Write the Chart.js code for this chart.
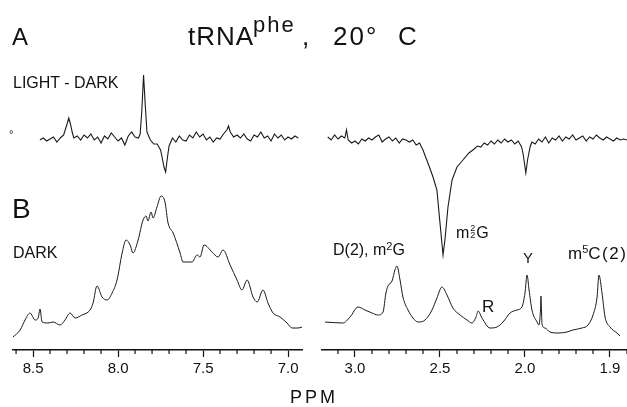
<!DOCTYPE html>
<html><head><meta charset="utf-8">
<script src="https://cdn.jsdelivr.net/npm/chart.js@4"></script>
<style>
html,body{margin:0;padding:0;background:#fff;}
#wrap{position:relative;width:627px;height:407px;overflow:hidden;background:#fff;font-family:"Liberation Sans",Arial,sans-serif;color:#111;}
canvas{position:absolute;top:0;}
.t{position:absolute;line-height:1;white-space:nowrap;}
</style></head><body>
<div id="wrap">
<canvas id="cl" width="312" height="407" style="left:0px"></canvas>
<canvas id="cr" width="315" height="407" style="left:312px"></canvas>
<div class="t" style="left:12px;top:25px;font-size:24px">A</div>
<div class="t" style="left:188px;top:23px;font-size:26px;letter-spacing:1px">tRNA</div>
<div class="t" style="left:253px;top:14px;font-size:22px;letter-spacing:2px">phe</div>
<div class="t" style="left:302px;top:23px;font-size:26px">,</div>
<div class="t" style="left:333px;top:23px;font-size:26px;letter-spacing:2px">20°</div>
<div class="t" style="left:398px;top:23px;font-size:26px">C</div>
<div class="t" style="left:13px;top:75px;font-size:16px">LIGHT - DARK</div>
<div class="t" style="left:9px;top:129px;font-size:11px">°</div>
<div class="t" style="left:12px;top:195px;font-size:28px">B</div>
<div class="t" style="left:13px;top:245px;font-size:16px">DARK</div>
<div class="t" style="left:333px;top:241px;font-size:16px">D(2), m<span style="font-size:11px;vertical-align:5px">2</span>G</div>
<div class="t" style="left:456px;top:225px;font-size:16px">m<span style="display:inline-block;font-size:9px;line-height:7px;text-align:center;margin:0 1px">2<br>2</span>G</div>
<div class="t" style="left:523px;top:250px;font-size:15px">Y</div>
<div class="t" style="left:568px;top:244px;font-size:17px">m<span style="font-size:11px;vertical-align:6px">5</span><span style="letter-spacing:1.5px">C(2)</span></div>
<div class="t" style="left:482px;top:298px;font-size:17px">R</div>
<div class="t" style="left:290px;top:388px;font-size:18px;letter-spacing:3px">PPM</div>
</div>
<script>
// ---- Left panel (aromatic region) ----
const leftLightDarkPpm = [8.46,8.44,8.42,8.40,8.38,8.36,8.34,8.32,8.30,8.29,8.28,8.27,8.26,8.24,8.22,8.20,8.18,8.16,8.14,8.12,8.10,8.08,8.06,8.04,8.02,8.00,7.98,7.96,7.94,7.92,7.90,7.88,7.87,7.86,7.85,7.84,7.83,7.81,7.79,7.77,7.75,7.74,7.73,7.72,7.71,7.70,7.68,7.66,7.64,7.62,7.60,7.58,7.56,7.54,7.52,7.50,7.48,7.46,7.44,7.42,7.40,7.38,7.36,7.35,7.34,7.32,7.30,7.28,7.26,7.24,7.22,7.20,7.18,7.16,7.14,7.12,7.10,7.08,7.06,7.04,7.02,7.00,6.98,6.96,6.94];
const leftLightDark = [210,212,209,211,213,208,212,215,226,232,226,218,212,214,210,215,212,216,210,213,207,214,211,217,213,209,212,205,214,218,213,212,216,240,275,245,218,210,206,206,200,192,183,178,192,204,212,208,214,210,209,215,212,218,213,216,210,213,208,212,211,216,220,224,218,213,215,212,216,211,209,215,213,218,212,214,209,216,212,215,210,213,211,214,212];
const leftDarkPpm = [8.618,8.576,8.547,8.518,8.488,8.47,8.459,8.447,8.412,8.382,8.341,8.312,8.282,8.253,8.212,8.165,8.147,8.124,8.094,8.065,8.035,8.006,7.976,7.953,7.929,7.912,7.882,7.853,7.835,7.824,7.806,7.794,7.771,7.747,7.724,7.706,7.676,7.635,7.618,7.565,7.535,7.518,7.494,7.447,7.412,7.382,7.341,7.300,7.271,7.241,7.206,7.182,7.147,7.118,7.088,7.047,7.006,6.976,6.941,6.918];
const leftDark = [13,20,30,37,30,32,41,28,27,28,25,30,37,32,35,40,47,64,53,50,57,70,97,110,105,97,110,130,134,129,138,132,143,154,148,127,117,97,88,88,95,93,105,98,93,100,85,70,60,70,53,48,60,47,37,33,27,22,22,23];
const leftTickValues = [8.6,8.5,8.4,8.3,8.2,8.1,8.0,7.9,7.8,7.7,7.6,7.5,7.4,7.3,7.2,7.1,7.0];
const leftMajorTicks = [8.5,8.0,7.5,7.0];
const leftTickLabels = ['8.5','8.0','7.5','7.0'];

// ---- Right panel (methyl region) ----
const rightLightDarkPpm = [3.16,3.14,3.12,3.10,3.08,3.06,3.05,3.04,3.02,3.00,2.98,2.96,2.94,2.92,2.90,2.88,2.86,2.84,2.82,2.80,2.78,2.76,2.74,2.72,2.70,2.68,2.66,2.64,2.62,2.60,2.571,2.541,2.518,2.50,2.482,2.471,2.453,2.429,2.40,2.365,2.33,2.306,2.28,2.26,2.24,2.22,2.20,2.18,2.16,2.14,2.12,2.10,2.08,2.06,2.04,2.02,2.01,1.995,1.985,1.97,1.96,1.94,1.92,1.90,1.88,1.86,1.84,1.82,1.80,1.78,1.76,1.74,1.72,1.70,1.68,1.66,1.64,1.62,1.60,1.58,1.56,1.54,1.52,1.50,1.48,1.46,1.44,1.42,1.40];
const rightLightDark = [213,210,215,211,214,212,220,210,207,209,206,211,209,212,210,213,215,208,211,213,209,212,207,211,210,208,210,205,207,200,187,173,160,127,95,110,143,170,183,190,197,200,204,203,207,205,209,206,210,207,211,208,210,206,209,203,195,177,190,203,208,206,211,208,213,207,212,210,214,209,213,211,215,210,212,214,209,213,211,215,212,210,213,211,209,212,210,211,210];
const rightDarkPpm = [3.176,3.071,3.029,2.982,2.941,2.900,2.865,2.835,2.818,2.806,2.782,2.765,2.753,2.735,2.718,2.688,2.659,2.629,2.588,2.547,2.518,2.488,2.459,2.424,2.382,2.341,2.312,2.288,2.276,2.253,2.206,2.165,2.129,2.088,2.047,2.018,2.000,1.988,1.976,1.959,1.929,1.918,1.909,1.906,1.903,1.900,1.882,1.853,1.806,1.753,1.718,1.665,1.629,1.600,1.576,1.565,1.547,1.529,1.500,1.459,1.441];
const rightDark = [28,27,33,43,40,37,35,38,57,64,69,80,84,70,53,40,32,28,30,40,52,63,55,42,35,30,27,33,39,32,22,23,28,37,40,43,57,75,60,40,28,25,40,54,40,26,22,18,17,18,20,22,25,35,53,75,57,33,23,17,14];
const rightTickValues = [3.1,3.0,2.9,2.8,2.7,2.6,2.5,2.4,2.3,2.2,2.1,2.0,1.9,1.8,1.7,1.6,1.5,1.4];
const rightMajorTicks = [3.0,2.5,2.0,1.5];
const rightTickLabels = ['3.0','2.5','2.0','1.9'];

function makePanel(id, o) {
  const isMajor = v => o.major.some(m => Math.abs(m - v) < 1e-6);
  const minorTicks = {
    id: 'minorTicks',
    afterDraw(chart) {
      const s = chart.scales.x, ctx = chart.ctx;
      ctx.save();
      ctx.strokeStyle = '#111';
      ctx.lineWidth = 1.2;
      s.ticks.forEach(t => {
        if (isMajor(t.value)) return;
        const px = s.getPixelForValue(t.value);
        ctx.beginPath();
        ctx.moveTo(px, s.top);
        ctx.lineTo(px, s.top + 4);
        ctx.stroke();
      });
      ctx.restore();
    }
  };
  return new Chart(document.getElementById(id), {
    type: 'line',
    data: { datasets: [
      { data: o.upPpm.map((x, i) => ({ x, y: o.up[i] })), borderColor: '#1a1a1a', borderWidth: 1.1, pointRadius: 0, tension: 0 },
      { data: o.lowPpm.map((x, i) => ({ x, y: o.low[i] })), borderColor: '#1a1a1a', borderWidth: 1, pointRadius: 0, cubicInterpolationMode: 'monotone' }
    ]},
    options: {
      responsive: false, animation: false, events: [],
      layout: { padding: { left: o.padL, right: o.padR, top: 50, bottom: 0 } },
      plugins: { legend: { display: false }, tooltip: { enabled: false } },
      scales: {
        x: {
          type: 'linear', reverse: true, min: o.min, max: o.max,
          afterBuildTicks: s => { s.ticks = o.tickValues.map(v => ({ value: v })); },
          afterFit: s => { s.height = 57; s.paddingLeft = 0; s.paddingRight = 0; },
          ticks: {
            autoSkip: false, maxRotation: 0, minRotation: 0, padding: 3, color: '#111',
            font: { family: 'Liberation Sans', size: 15 },
            callback: v => { const i = o.major.findIndex(m => Math.abs(m - v) < 1e-6); return i >= 0 ? o.labels[i] : ''; }
          },
          grid: { display: true, drawOnChartArea: false, drawTicks: true, tickLength: 7, tickWidth: 1.2,
            tickColor: c => (c.tick && isMajor(c.tick.value)) ? '#111' : 'rgba(0,0,0,0)' },
          border: { display: true, color: '#111', width: 1.6 }
        },
        y: { display: false, min: 0, max: 300 }
      }
    },
    plugins: [minorTicks]
  });
}

makePanel('cl', { min: 6.918, max: 8.618, padL: 13, padR: 10,
  tickValues: leftTickValues, major: leftMajorTicks, labels: leftTickLabels,
  upPpm: leftLightDarkPpm, up: leftLightDark, lowPpm: leftDarkPpm, low: leftDark });
makePanel('cr', { min: 1.4, max: 3.194, padL: 10, padR: 0,
  tickValues: rightTickValues, major: rightMajorTicks, labels: rightTickLabels,
  upPpm: rightLightDarkPpm, up: rightLightDark, lowPpm: rightDarkPpm, low: rightDark });
</script>
</body></html>
